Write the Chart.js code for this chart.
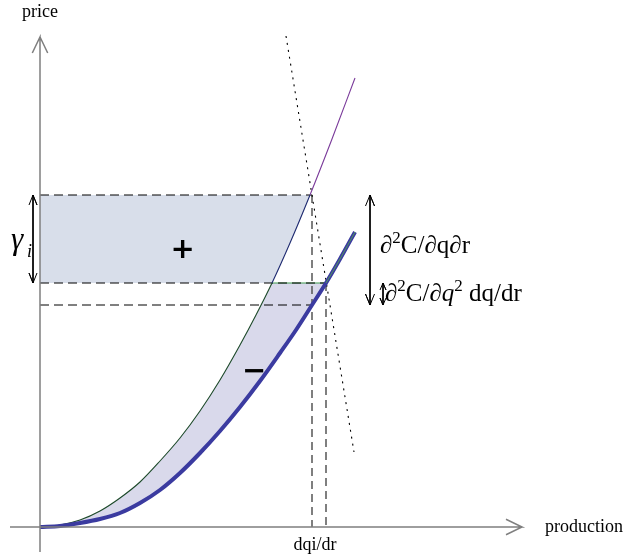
<!DOCTYPE html>
<html><head><meta charset="utf-8">
<script src="https://cdn.jsdelivr.net/npm/chart.js@4/dist/chart.umd.min.js"></script>
<style>html,body{margin:0;padding:0;background:#fff;overflow:hidden}canvas{display:block}</style>
</head><body>
<canvas id="c" width="624" height="554" style="width:624px;height:554px"></canvas>
<script>
// ---- data (model units: production, price) ----
const upperX = [0, 20, 40, 60, 80, 100, 120, 140, 160, 180, 200, 216, 232, 250, 270, 292, 315];
const upperY = [0, 2, 7, 16, 29, 45, 66, 89, 116, 147, 182, 212, 244, 284, 332, 388, 449];
const lowerX = [0, 20, 40, 60, 80, 100, 120, 140, 160, 180, 200, 220, 240, 256, 272, 286, 300, 315];
const lowerY = [0, 1, 4, 8, 14, 24, 37, 54, 74, 96, 120, 146, 174, 197, 222, 244, 268, 295];
const plusX = [0, 232, 241, 250, 260, 270];
const plusY = [244, 244, 264, 284, 307, 332];
const priceLevels = [332, 244, 222];      // top, middle, lower horizontal guides
const quantityLevels = [272, 286];        // vertical guides
const dottedX = [246, 314];
const dottedY = [491, 75];
const axisMax = [482, 490];               // x-axis end, y-axis end
const axisTitles = ['price', 'production'];
const tickLabels = ['dqi/dr'];
const signLabels = ['+', '\u2212'];
const gammaLabel = ['\u03b3', 'i'];
const deriv1 = [{t:'\u2202'},{t:'2',sup:true},{t:'C/\u2202q\u2202r'}];
const deriv2 = [{t:'\u2202'},{t:'2',sup:true},{t:'C/\u2202'},{t:'q',it:true},{t:'2',sup:true},{t:' dq/dr'}];

const pts = (xs, ys) => xs.map((x, i) => ({x, y: ys[i]}));
const upper = pts(upperX, upperY);
const lower = pts(lowerX, lowerY);
const [pTop, pMid, pLow] = priceLevels;
const [qU, qL] = quantityLevels;
const upperToMid = upper.filter(p => p.x <= 232);
const lowerToMid = lower.filter(p => p.x <= qL);
const lowerTop = lower.filter(p => p.x >= qL);

function line(data, color, width, dash, extra) {
  return Object.assign({data, borderColor: color, borderWidth: width, borderDash: dash || [],
    pointRadius: 0, fill: false, tension: 0, borderCapStyle: 'butt'}, extra || {});
}
function dblArrow(x, y1, y2, ax, ay) {
  return [{x:x-ax,y:y1-ay},{x,y:y1},{x:x+ax,y:y1-ay},{x,y:y1},{x,y:y2},{x:x-ax,y:y2+ay},{x,y:y2},{x:x+ax,y:y2+ay}];
}
const fillPlus = '#d8deea', fillMinus = '#d9d9eb';
const mono = {cubicInterpolationMode: 'monotone'};

const datasets = [
  line(pts(plusX, plusY), 'rgba(0,0,0,0)', 0, null, {fill: {value: pTop}, backgroundColor: fillPlus}),
  line(upperToMid, 'rgba(0,0,0,0)', 0, null, Object.assign({fill: 2, backgroundColor: fillMinus}, mono)),
  line(lowerToMid, 'rgba(0,0,0,0)', 0, null, mono),
  line([{x:232,y:pMid},{x:qL,y:pMid}], 'rgba(0,0,0,0)', 0, null, {fill: 2, backgroundColor: fillMinus}),
  line([{x:0,y:pTop},{x:qU,y:pTop}], '#000', 1, [9,5]),
  line([{x:232,y:pMid},{x:qL,y:pMid}], '#3f9a4f', 1),
  line([{x:0,y:pMid},{x:qL,y:pMid}], '#000', 1, [9,5]),
  line([{x:0,y:pLow},{x:qU,y:pLow}], '#000', 1, [9,5]),
  line([{x:qU,y:pTop},{x:qU,y:0}], '#555', 1.5, [8,5]),
  line([{x:qL,y:pMid},{x:qL,y:0}], '#555', 1.5, [8,5]),
  line(pts(dottedX, dottedY), '#000', 1.1, [2,5]),
  line(upper, '#222', 1.1, null, Object.assign({
    segment: {borderColor: c => c.p0.parsed.x >= 270 ? '#7a3a9a' : (c.p0.parsed.x >= 232 ? '#1e2a70' : '#1d4a2a')}}, mono)),
  line(lower, '#3b3ba0', 4, null, mono),
  line(lowerTop, '#4f9a5a', 1, null, mono),
  line([{x:-30,y:0},{x:axisMax[0],y:0},{x:axisMax[0]-16,y:7.7},{x:axisMax[0],y:0},{x:axisMax[0]-16,y:-7.7}], '#7f7f7f', 1.5),
  line([{x:0,y:-25},{x:0,y:axisMax[1]},{x:-7.7,y:axisMax[1]-16},{x:0,y:axisMax[1]},{x:7.7,y:axisMax[1]-16}], '#7f7f7f', 1.5),
  line(dblArrow(-7, pTop, pMid, 4, 10), '#000', 1),
  line(dblArrow(330, pTop, pLow, 4.5, 11), '#000', 1),
  line(dblArrow(343, pMid, pLow, 3, 7), '#000', 1),
];
datasets.forEach((d, i) => { d.order = 100 - i; });

function drawRich(ctx, runs, x, y, size) {
  let cx = x;
  for (const r of runs) {
    const fs = r.sup ? Math.round(size * 0.68) : size;
    ctx.font = (r.it ? 'italic ' : '') + fs + 'px "Liberation Serif"';
    ctx.fillText(r.t, cx, r.sup ? y - size * 0.4 : y);
    cx += ctx.measureText(r.t).width;
  }
}
function drawCentered(ctx, t, px, py) {
  const m = ctx.measureText(t);
  const w = m.actualBoundingBoxRight + m.actualBoundingBoxLeft;
  const h = m.actualBoundingBoxAscent + m.actualBoundingBoxDescent;
  ctx.textAlign = 'left'; ctx.textBaseline = 'alphabetic';
  ctx.fillText(t, px - w / 2 + m.actualBoundingBoxLeft, py + h / 2 - m.actualBoundingBoxDescent);
}

const textPlugin = {
  id: 'diagramTexts',
  afterDatasetsDraw(chart) {
    const {ctx, scales: {x, y}} = chart;
    const X = v => x.getPixelForValue(v), Y = v => y.getPixelForValue(v);
    ctx.save();
    ctx.fillStyle = '#000';
    ctx.textBaseline = 'alphabetic';
    ctx.font = '18px "Liberation Serif"';
    ctx.textAlign = 'center';
    ctx.fillText(axisTitles[0], X(0), Y(510));
    ctx.fillText(tickLabels[0], X(275), Y(-23));
    ctx.textAlign = 'left';
    ctx.fillText(axisTitles[1], X(505), Y(-5));
    ctx.font = 'italic 31px "Liberation Serif"';
    ctx.fillText(gammaLabel[0], X(-29), Y(278));
    ctx.font = 'italic 18px "Liberation Serif"';
    ctx.fillText(gammaLabel[1], X(-13), Y(270));
    ctx.font = 'bold 29px "DejaVu Sans"';
    drawCentered(ctx, signLabels[0], X(143), Y(278));
    drawCentered(ctx, signLabels[1], X(214.5), Y(155.7));
    ctx.textAlign = 'left';
    drawRich(ctx, deriv1, X(340), Y(274), 25);
    drawRich(ctx, deriv2, X(345), Y(226), 25);
    ctx.restore();
  }
};

new Chart(document.getElementById('c'), {
  type: 'line',
  data: {datasets},
  options: {
    responsive: false, animation: false, devicePixelRatio: 1,
    layout: {padding: 0},
    scales: {
      x: {type: 'linear', min: -40, max: 584, display: false},
      y: {type: 'linear', min: -27, max: 527, display: false}
    },
    plugins: {legend: {display: false}, tooltip: {enabled: false}, filler: {drawTime: 'beforeDatasetsDraw'}},
    elements: {point: {radius: 0}}
  },
  plugins: [textPlugin]
});
</script>
</body></html>
